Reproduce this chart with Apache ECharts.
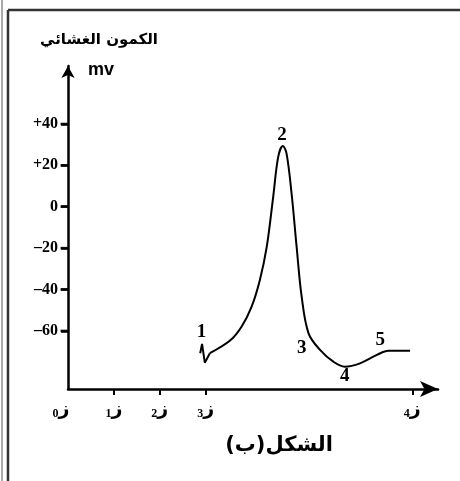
<!DOCTYPE html>
<html><head><meta charset="utf-8">
<script src="https://cdn.jsdelivr.net/npm/echarts@6/dist/echarts.min.js"></script>
<style>html,body{margin:0;padding:0;background:#fff;}#c{width:460px;height:481px;}</style>
</head><body><div id="c"></div>
<script>
// time axis positions (units of ز spacing) and membrane potential (mV)
const spikeTime = [2.88, 2.92, 2.98, 3.09];
const spikeMv   = [-70.8, -66.3, -75.4, -70.8];
const waveTime  = [3.09, 3.53, 3.78, 4.00, 4.18, 4.33, 4.47, 4.58, 4.68, 4.76, 4.87, 4.98, 5.09, 5.24, 5.49, 5.78, 6.03, 6.36, 6.73, 6.98, 7.45];
const waveMv    = [-70.8, -64.7, -58.0, -48.3, -35.4, -19.3, 4.8, 24.2, 29.3, 25.8, 6.5, -19.3, -43.5, -61.2, -69.2, -74.9, -77.3, -75.7, -71.6, -69.6, -69.6];
const pointNames = ['1', '2', '3', '4', '5'];
const pointTime  = [2.91, 4.66, 5.09, 6.03, 6.80];
const pointMv    = [-60.7, 34.6, -68.4, -82.1, -64.4];
const yTicks = [-60, -40, -20, 0, 20, 40];
const yTickLabels = ['–60', '–40', '–20', '0', '+20', '+40'];
const xTicks = [0, 1, 2, 3, 7.5];
const xTickIndex = ['0', '1', '2', '3', '4'];
const yTitle = 'الكمون الغشائي';
const yUnit = 'mv';
const caption = 'الشكل(ب)';

const chart = echarts.init(document.getElementById('c'));
const serif = '"Liberation Serif", "DejaVu Serif", serif';
const arab = '"DejaVu Sans", "Noto Sans", sans-serif';
chart.setOption({
  animation: false,
  backgroundColor: '#fff',
  grid: { left: 68, right: 22, top: 66, bottom: 92, containLabel: false },
  xAxis: {
    type: 'value', min: 0, max: 8.06,
    splitLine: { show: false },
    axisLine: { onZero: false, lineStyle: { color: '#000', width: 2.5 }, symbol: ['none', 'arrow'], symbolSize: [12, 18] },
    axisTick: { show: true, customValues: xTicks.slice(1), length: 6, lineStyle: { color: '#000', width: 2 } },
    axisLabel: {
      customValues: xTicks, margin: 9,
      formatter: function (v) {
        const i = xTicks.indexOf(v);
        const s = '{s|' + xTickIndex[i] + '}{z|ز}';
        return i === 0 ? s + '{g|}' : s;
      },
      rich: {
        s: { fontFamily: serif, fontWeight: 'bold', fontSize: 12, color: '#000', padding: [10, 0, 0, 0] },
        z: { fontFamily: arab, fontWeight: 'bold', fontSize: 19, color: '#000' },
        g: { width: 14 }
      }
    }
  },
  yAxis: {
    type: 'value', min: -88.1, max: 68,
    splitLine: { show: false },
    axisLine: { onZero: false, lineStyle: { color: '#000', width: 2.5 }, symbol: ['none', 'arrow'], symbolSize: [10, 12] },
    axisTick: { show: true, customValues: yTicks, length: 7, lineStyle: { color: '#000', width: 2.5 } },
    axisLabel: {
      customValues: yTicks, margin: 10,
      formatter: function (v) { return yTickLabels[yTicks.indexOf(v)]; },
      fontFamily: serif, fontWeight: 'bold', fontSize: 16, color: '#000'
    }
  },
  series: [
    { type: 'line', data: spikeTime.map((t, i) => [t, spikeMv[i]]), showSymbol: false, smooth: false,
      lineStyle: { color: '#000', width: 2 } },
    { type: 'line', data: waveTime.map((t, i) => [t, waveMv[i]]), showSymbol: false, smooth: 0.35,
      lineStyle: { color: '#000', width: 2 } },
    { type: 'scatter', data: pointTime.map((t, i) => [t, pointMv[i], pointNames[i]]), symbolSize: 0,
      itemStyle: { opacity: 1 },
      label: { show: true, position: 'inside', formatter: p => p.data[2],
        fontFamily: serif, fontWeight: 'bold', fontSize: 19, color: '#000' } },
    { type: 'scatter', silent: true, clip: false, data: yTicks.map(v => [0, v]),
      symbol: 'rect', symbolSize: [7, 2.5], symbolOffset: [-4, 0], itemStyle: { color: '#000' } }
  ],
  graphic: [
    { type: 'line', shape: { x1: 2, y1: 0, x2: 2, y2: 481 }, style: { stroke: '#aaa', lineWidth: 2 } },
    { type: 'line', shape: { x1: 8, y1: 10, x2: 460, y2: 10 }, style: { stroke: '#333', lineWidth: 2.5 } },
    { type: 'line', shape: { x1: 8, y1: 10, x2: 8, y2: 481 }, style: { stroke: '#333', lineWidth: 2.5 } },
    { type: 'text', x: 99, y: 40, style: { text: yTitle, fontFamily: arab, fontWeight: 'bold', fontSize: 15, fill: '#000', align: 'center', verticalAlign: 'middle' } },
    { type: 'text', left: 88, top: 61, style: { text: yUnit, fontFamily: '"Liberation Sans", Arial, sans-serif', fontWeight: 'bold', fontSize: 18, fill: '#000' } },
    { type: 'text', x: 279, y: 446, style: { text: caption, fontFamily: arab, fontWeight: 'bold', fontSize: 21, fill: '#000', align: 'center', verticalAlign: 'middle' } }
  ]
});
</script></body></html>
